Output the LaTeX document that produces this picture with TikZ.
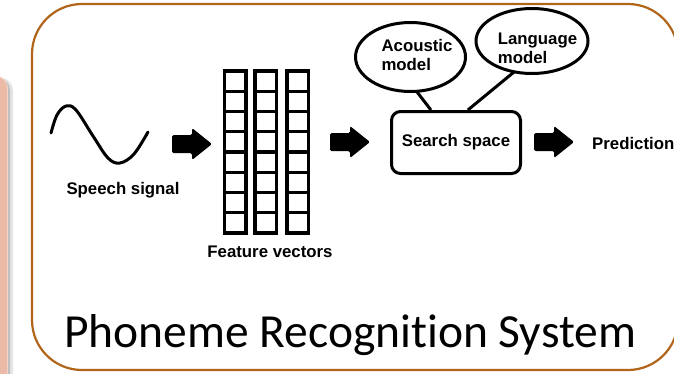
\documentclass[tikz,border=0pt]{standalone}
\usepackage{fontspec}
\setmainfont{Liberation Sans}
\newfontfamily\titlefont[Ligatures=NoCommon]{Carlito}
\usetikzlibrary{shapes.geometric,calc}
\definecolor{framebrown}{RGB}{176,101,26}
\definecolor{panelpink}{RGB}{236,187,167}
\definecolor{paneledge}{RGB}{244,212,198}
\begin{document}
\begin{tikzpicture}[x=1pt,y=-1pt,
  lbl/.style={font=\bfseries\fontsize{16.8}{19}\selectfont, inner sep=0pt},
  heavy/.style={line width=3pt},
  model/.style={ellipse, draw, line width=3pt, minimum width=110pt,
    minimum height=69pt, inner sep=0pt, outer sep=0pt},
  cell/.style={draw, line width=3.1pt},
  pics/blockarrow/.style={code={
    \fill[rounded corners=1.5pt] (0,-9) -- (20,-9) -- (20,-16) -- (40,0)
      -- (20,16) -- (20,9) -- (0,9) -- cycle;}}
]
\clip (0,0) rectangle (674,373);
\fill[white] (0,0) rectangle (674,373);

% neighbouring slide panel with its shadow
\fill[black!10, rounded corners=12pt] (-30,78) rectangle (13,400);
\fill[black!25, rounded corners=12pt] (-30,78) rectangle (10,400);
\fill[panelpink, draw=paneledge, line width=0.8pt, rounded corners=12pt]
  (-30,76) rectangle (7.5,400);

% outer frame
\draw[framebrown, line width=2.2pt, fill=white, rounded corners=50pt]
  (32,4) rectangle (678,370);

% speech signal
\draw[heavy, line cap=round] plot[smooth, tension=0.6] coordinates
  {(51,133) (57,115) (66,106) (76,110) (93,136) (108,158) (120,163) (134,154) (148,132)};
\node[lbl] (speech) at (123,190) {Speech signal};

% feature vectors
\foreach \cx in {224.5,255,287}{
  \foreach \r in {0,...,7}{
    \draw[cell] (\cx,71+\r*20.25) rectangle ++(21.5,20.25);
  }
}
\node[lbl] (feat) at (270,252) {Feature vectors};

% block arrows between the stages
\coordinate (arrA) at (172,144);
\coordinate (arrB) at (330,142);
\coordinate (arrC) at (534,142);
\pic at (arrA) {blockarrow};
\pic at (arrB) {blockarrow};
\pic at (arrC) {blockarrow};

% search space and the two models
\node[draw, heavy, rounded corners=9pt, minimum width=129pt, minimum height=62pt,
  font=\bfseries\fontsize{16.8}{19}\selectfont] (ss) at (456,142.5) {Search space};
\node[model] (ac) at (410.5,57) {};
\node[model, minimum width=112pt, minimum height=65pt] (lm) at (532,41) {};
\node[lbl, align=left] (acT) at (417,55) {Acoustic\\model};
\node[lbl, align=left] (lmT) at (537.5,48) {Language\\model};
\draw[heavy] (ac.-80) -- ($(ss.north west)!0.31!(ss.north east)$);
\draw[heavy] (lm.240) -- ($(ss.north west)!0.59!(ss.north east)$);

\node[lbl, anchor=west] (pred) at (592,143) {Prediction};

% title
\node[font=\titlefont\fontsize{47.5}{50}\selectfont, anchor=base west, inner sep=0pt]
  (title) at (64,347) {Phoneme Recognition System};
\end{tikzpicture}
\end{document}
